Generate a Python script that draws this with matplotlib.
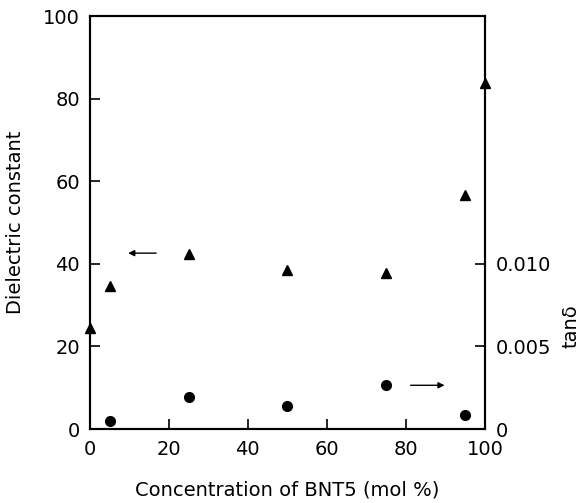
import matplotlib
matplotlib.use("Agg")
import matplotlib.pyplot as plt

plt.rcParams['font.family'] = ['DejaVu Sans']

# 誘電率 (triangles)
conc_eps = [0, 5, 25, 50, 75, 95, 100]
eps = [24.5, 34.6, 42.5, 38.4, 37.9, 56.6, 83.9]

# tanδ (circles)
conc_tan = [5, 25, 50, 75, 95]
tan_d = [0.00048, 0.00193, 0.0014, 0.00265, 0.00085]

fig = plt.figure(figsize=(5.87, 5.03), dpi=100)
ax = fig.add_axes([0.153, 0.147, 0.673, 0.821])
ax2 = ax.twinx()

ax.plot(conc_eps, eps, linestyle='none', marker='^', color='black', markersize=7, clip_on=False, zorder=5)
ax2.plot(conc_tan, tan_d, linestyle='none', marker='o', color='black', markersize=7, clip_on=False, zorder=5)

ax.set_xlim(0, 100)
ax.set_ylim(0, 100)
ax2.set_ylim(0, 0.025)

ax.set_xticks([0, 20, 40, 60, 80, 100])
ax.set_yticks([0, 20, 40, 60, 80, 100])
ax2.set_yticks([0, 0.005, 0.010])
ax2.set_yticklabels(['0', '0.005', '0.010'])

for a in (ax, ax2):
    a.tick_params(direction='in', length=7, width=1.2, labelsize=14, pad=7)
    for s in a.spines.values():
        s.set_linewidth(1.5)
ax.tick_params(axis='x', pad=8)
ax2.tick_params(axis='y', pad=8)

ax.set_xlabel('Concentration of BNT5 (mol %)', fontsize=14)
ax.xaxis.set_label_coords(0.5, -0.125)
ax.set_ylabel('Dielectric constant', fontsize=14)
ax.yaxis.set_label_coords(-0.163, 0.5)
ax2.set_ylabel('tanδ', fontsize=14)
ax2.yaxis.set_label_coords(1.195, 0.25)

# arrows
ax.annotate('', xy=(9, 42.6), xytext=(17.5, 42.6),
            arrowprops=dict(arrowstyle='-|>', color='black', lw=1, mutation_scale=9))
ax.annotate('', xy=(90.5, 10.6), xytext=(80.5, 10.6),
            arrowprops=dict(arrowstyle='-|>', color='black', lw=1, mutation_scale=9))

fig.savefig('out.png', dpi=100)
